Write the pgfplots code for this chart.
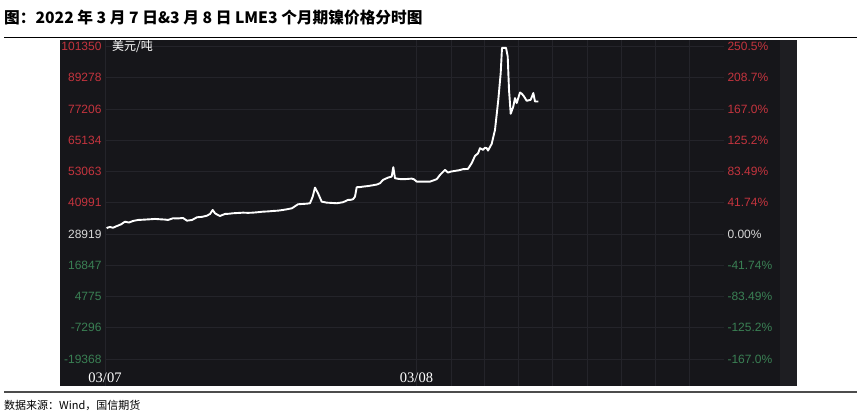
\documentclass[border=0pt]{standalone}
\usepackage{fontspec}
\setmainfont{Liberation Sans}
\newfontfamily\cjk{Noto Sans CJK SC}
\newfontfamily\serifdig{Liberation Serif}
\usepackage{pgfplots}
\pgfplotsset{compat=1.18}
\definecolor{panelbg}{RGB}{22,22,26}
\definecolor{stripbg}{RGB}{30,30,34}
\definecolor{gridc}{RGB}{36,36,42}
\definecolor{redc}{RGB}{196,52,62}
\definecolor{greenc}{RGB}{58,128,84}
\definecolor{zeroc}{RGB}{215,215,215}
\begin{document}
\begin{tikzpicture}
\useasboundingbox (0,0) rectangle (857pt,414pt);
% title and rules
\node[anchor=base west, inner sep=0pt, font=\cjk\bfseries\fontsize{15.7}{17}\selectfont] at (4pt,390.5pt) {图：2022 年 3 月 7 日\&3 月 8 日 LME3 个月期镍价格分时图};
\draw[line width=1.8pt, black] (4pt,376.5pt) -- (857pt,376.5pt);
\fill[panelbg] (60pt,28pt) rectangle (797pt,374pt);
\fill[stripbg] (780pt,28pt) rectangle (797pt,374pt);
\draw[line width=1.4pt, black!70] (4pt,22pt) -- (857pt,22pt);
\node[anchor=base west, inner sep=0pt, font=\cjk\fontsize{11}{13}\selectfont] at (4pt,4pt) {数据来源：Wind，国信期货};
\begin{axis}[
  at={(105pt,28pt)}, anchor=south west,
  width=619pt, height=346pt, scale only axis,
  xmin=0, xmax=619, ymin=-29838, ymax=103823,
  scaled y ticks=false, scaled x ticks=false,
  axis line style={draw=none}, tick style={draw=none},
  xtick={0,311.5}, xticklabels={03/07,03/08},
  minor xtick={346,379,413,447,482,516,550,584},
  xmajorgrids, xminorgrids, ymajorgrids,
  major grid style={gridc, line width=0.7pt},
  minor grid style={gridc, line width=0.7pt},
  xticklabel style={anchor=base, yshift=3.5pt, text=white, font=\serifdig\fontsize{14.5}{16}\selectfont},
  ytick={101350,89278,77206,65134,53063,40991,28919,16847,4775,-7296,-19368},
  yticklabels={\textcolor{redc}{101350},\textcolor{redc}{89278},\textcolor{redc}{77206},\textcolor{redc}{65134},\textcolor{redc}{53063},\textcolor{redc}{40991},\textcolor{zeroc}{28919},\textcolor{greenc}{16847},\textcolor{greenc}{4775},\textcolor{greenc}{-7296},\textcolor{greenc}{-19368}},
  yticklabel style={font=\fontsize{12}{14}\selectfont},
  clip=false,
]
\addplot[white, line width=1.9pt, line join=round] coordinates {
(1.7,31086) (3,31400) (5,31589) (8,31300) (12,31976) (16,32600) (20,33640) (24,33300) (28,33911) (33,34298) (38,34400) (45,34568) (50,34700) (55,34568) (60,34450) (63,34298) (68,34955) (73,34900) (78,35071) (82,34027) (87,34298) (92,35342) (97,35500) (102,35961) (105,36619) (107.7,38167) (110,36890) (113,36200) (115,35845) (120,36619) (124,36700) (128,36890) (133,37000) (138,37122) (143,37050) (148,37122) (153,37300) (158,37509) (163,37600) (168,37780) (173,37900) (178,38167) (183,38500) (187,38824) (190,39600) (193,40372) (198,40488) (202,40600) (205,40759) (207.7,43312) (210,46794) (213,44628) (216.7,41378) (221.7,40991) (226,40900) (231.7,40759) (238,41146) (243,42036) (245,42036) (248,42300) (250,43312) (251.7,46949) (255,47000) (258,47181) (263,47400) (268,47723) (272,48000) (275,48497) (278,49774) (283,50663) (286.7,51050) (288.3,54687) (290,50431) (293,50200) (296.7,50044) (301,50100) (306.7,50276) (309,50000) (311.7,49116) (315,49116) (320,49116) (325,49116) (331.7,50044) (335,51708) (340,53643) (343,52598) (346,53000) (350,53256) (354,53500) (358,53913) (363,54029) (366.7,56235) (370,59059) (373,60000) (375,62038) (378,61381) (380,62200) (381.7,62038) (383,61110) (386.7,63702) (390,69119) (393.3,80726) (395.7,91056) (397,100800) (401,100800) (402.7,97478) (404,84595) (405.7,75309) (408.3,78133) (410,81383) (411.7,79449) (415,83550) (417,83000) (419,82002) (421.7,80339) (425.7,80726) (428.3,83318) (430,80068) (433.3,80068)
};
\node[anchor=west, inner sep=0pt, text=white, font=\cjk\fontsize{12}{14}\selectfont] at (axis cs:7,101350) {美元/吨};
\end{axis}
\begin{axis}[
  at={(105pt,28pt)}, anchor=south west,
  width=619pt, height=346pt, scale only axis,
  xmin=0, xmax=619, ymin=-29838, ymax=103823,
  scaled y ticks=false, scaled x ticks=false,
  axis y line*=right, hide x axis,
  axis line style={draw=none}, tick style={draw=none},
  ytick={101350,89278,77206,65134,53063,40991,28919,16847,4775,-7296,-19368},
  yticklabels={\textcolor{redc}{250.5\%},\textcolor{redc}{208.7\%},\textcolor{redc}{167.0\%},\textcolor{redc}{125.2\%},\textcolor{redc}{83.49\%},\textcolor{redc}{41.74\%},\textcolor{zeroc}{0.00\%},\textcolor{greenc}{-41.74\%},\textcolor{greenc}{-83.49\%},\textcolor{greenc}{-125.2\%},\textcolor{greenc}{-167.0\%}},
  yticklabel style={font=\fontsize{12}{14}\selectfont},
]
\addplot[draw=none] coordinates {(0,28919)};
\end{axis}
\end{tikzpicture}
\end{document}
